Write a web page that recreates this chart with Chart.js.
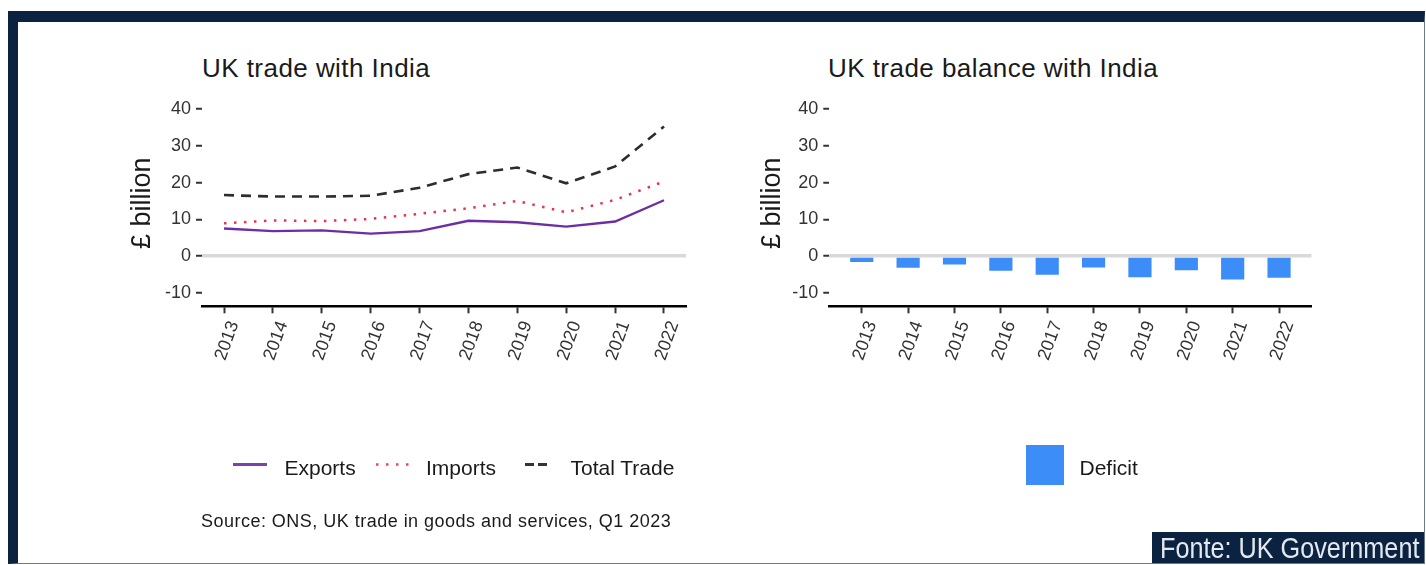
<!DOCTYPE html>
<html>
<head>
<meta charset="utf-8">
<script src="https://cdn.jsdelivr.net/npm/chart.js@4.4.0/dist/chart.umd.min.js"></script>
<style>
  body { margin: 0; width: 1426px; height: 565px; background: #fff; position: relative; overflow: hidden;
         font-family: 'Liberation Sans', Arial, sans-serif; }
  .frame { position: absolute; left: 8px; top: 11px; width: 1417px; height: 553px; box-sizing: border-box;
           border-top: 11px solid #0b2240; border-left: 10px solid #0b2240;
           border-right: 1px solid #6d7a88; border-bottom: 1px solid #6d7a88; }
  .txt { position: absolute; line-height: 1; white-space: nowrap; color: #1a1a1a; }
  .title { font-size: 26px; letter-spacing: 0.45px; top: 54.7px; }
  .leg { font-size: 21px; top: 456.5px; }
  .box { position: absolute; }
  .fonte { position: absolute; left: 1152px; top: 532px; width: 272px; height: 31px; background: #0b2240; }
  .fonte span { position: absolute; left: 8px; top: 1.8px; font-size: 29px; line-height: 1; color: #e3e9ef;
                transform: scaleX(0.87); transform-origin: left top; white-space: nowrap; }
</style>
</head>
<body>
<div class="frame"></div>

<div class="txt title" style="left:202px">UK trade with India</div>
<div class="txt title" style="left:828px">UK trade balance with India</div>

<div class="box" style="left:110px; top:90px"><canvas id="tradeChart" width="600" height="290"></canvas></div>
<div class="box" style="left:740px; top:90px"><canvas id="balanceChart" width="600" height="290"></canvas></div>

<svg style="position:absolute; left:0; top:0" width="1426" height="565">
  <line x1="233" y1="464.5" x2="267" y2="464.5" stroke="#7a42ad" stroke-width="3"/>
  <line x1="376" y1="464.5" x2="409" y2="464.5" stroke="#e8475f" stroke-width="2.5" stroke-dasharray="2.5 7.5"/>
  <line x1="525" y1="464.5" x2="547" y2="464.5" stroke="#333" stroke-width="3" stroke-dasharray="9 4"/>
  <rect x="1026" y="445" width="38" height="40" fill="#3c8df8"/>
</svg>
<div class="txt leg" style="left:284.5px">Exports</div>
<div class="txt leg" style="left:426px">Imports</div>
<div class="txt leg" style="left:570.5px">Total Trade</div>
<div class="txt leg" style="left:1079.5px">Deficit</div>

<div class="txt" style="left:201px; top:511.5px; font-size:18px; letter-spacing:0.48px">Source: ONS, UK trade in goods and services, Q1 2023</div>

<div class="fonte"><span>Fonte: UK Government</span></div>

<script>
// values in £ billion
var years = [2013, 2014, 2015, 2016, 2017, 2018, 2019, 2020, 2021, 2022];
var exportsBn = [7.5, 6.8, 7.0, 6.1, 6.8, 9.6, 9.2, 8.0, 9.4, 15.2];
var importsBn = [8.9, 9.7, 9.5, 10.1, 11.5, 13.0, 15.0, 11.9, 15.3, 20.3];
var totalBn = [16.6, 16.2, 16.2, 16.4, 18.6, 22.3, 24.1, 19.8, 24.4, 35.3];
var deficitBn = [-1.6, -3.2, -2.3, -4.0, -5.1, -3.1, -5.8, -3.9, -6.4, -5.9];
var yTicks = [-10, 0, 10, 20, 30, 40];

Chart.defaults.font.family = "'Liberation Sans', Arial, sans-serif";
Chart.defaults.animation = false;

function points(values) {
  return years.map(function (yr, i) { return { x: yr, y: values[i] }; });
}

function yAxis(width) {
  return {
    min: -13.7,
    max: 42.5,
    afterFit: function (s) { s.width = width; s.paddingTop = 0; s.paddingBottom = 0; },
    afterBuildTicks: function (s) { s.ticks = yTicks.map(function (v) { return { value: v }; }); },
    border: { display: false },
    grid: {
      color: function (c) { return c.tick && c.tick.value === 0 ? '#d9d9d9' : 'rgba(0,0,0,0)'; },
      lineWidth: 3.5,
      tickColor: '#333',
      tickWidth: 2,
      tickLength: 6
    },
    ticks: { color: '#333', font: { size: 18 }, padding: 5 },
    title: { display: true, text: '£ billion', color: '#1a1a1a', font: { size: 27 }, padding: { top: 16, bottom: 0 } }
  };
}

function xAxis(min, max) {
  return {
    type: 'linear',
    min: min,
    max: max,
    offset: false,
    afterFit: function (s) { s.height = 60; s.paddingLeft = 0; s.paddingRight = 0; },
    afterBuildTicks: function (s) { s.ticks = years.map(function (v) { return { value: v }; }); },
    border: { display: true, color: '#000', width: 2.5 },
    grid: { drawOnChartArea: false, offset: false, tickLength: 7, tickWidth: 2, tickColor: '#333' },
    ticks: {
      color: '#333', font: { size: 18 }, minRotation: 70, maxRotation: 70, autoSkip: false,
      labelOffset: 10, padding: 5,
      callback: function (v) { return String(v); }
    }
  };
}

var plugins = { legend: { display: false }, tooltip: { enabled: false } };

new Chart(document.getElementById('tradeChart'), {
  type: 'line',
  data: {
    datasets: [
      { label: 'Exports', data: points(exportsBn), borderColor: '#6f2da3', borderWidth: 2.3, pointRadius: 0, tension: 0 },
      { label: 'Imports', data: points(importsBn), borderColor: '#e6334e', borderWidth: 2.5, borderDash: [2.5, 7.5], pointRadius: 0, tension: 0 },
      { label: 'Total Trade', data: points(totalBn), borderColor: '#2d2d2d', borderWidth: 2.6, borderDash: [10, 7], pointRadius: 0, tension: 0 }
    ]
  },
  options: {
    responsive: false,
    layout: { padding: { left: 0, top: 10, right: 24, bottom: 13.7 } },
    scales: { x: xAxis(2012.55, 2022.45), y: yAxis(92) },
    plugins: plugins
  }
});

new Chart(document.getElementById('balanceChart'), {
  type: 'bar',
  data: {
    datasets: [
      { label: 'Deficit', data: points(deficitBn), backgroundColor: '#3c8df8', barPercentage: 0.5, categoryPercentage: 1 }
    ]
  },
  options: {
    responsive: false,
    layout: { padding: { left: 0, top: 10, right: 28.5, bottom: 13.7 } },
    scales: { x: xAxis(2012.3, 2022.7), y: yAxis(89.3) },
    plugins: plugins
  }
});
</script>
</body>
</html>
